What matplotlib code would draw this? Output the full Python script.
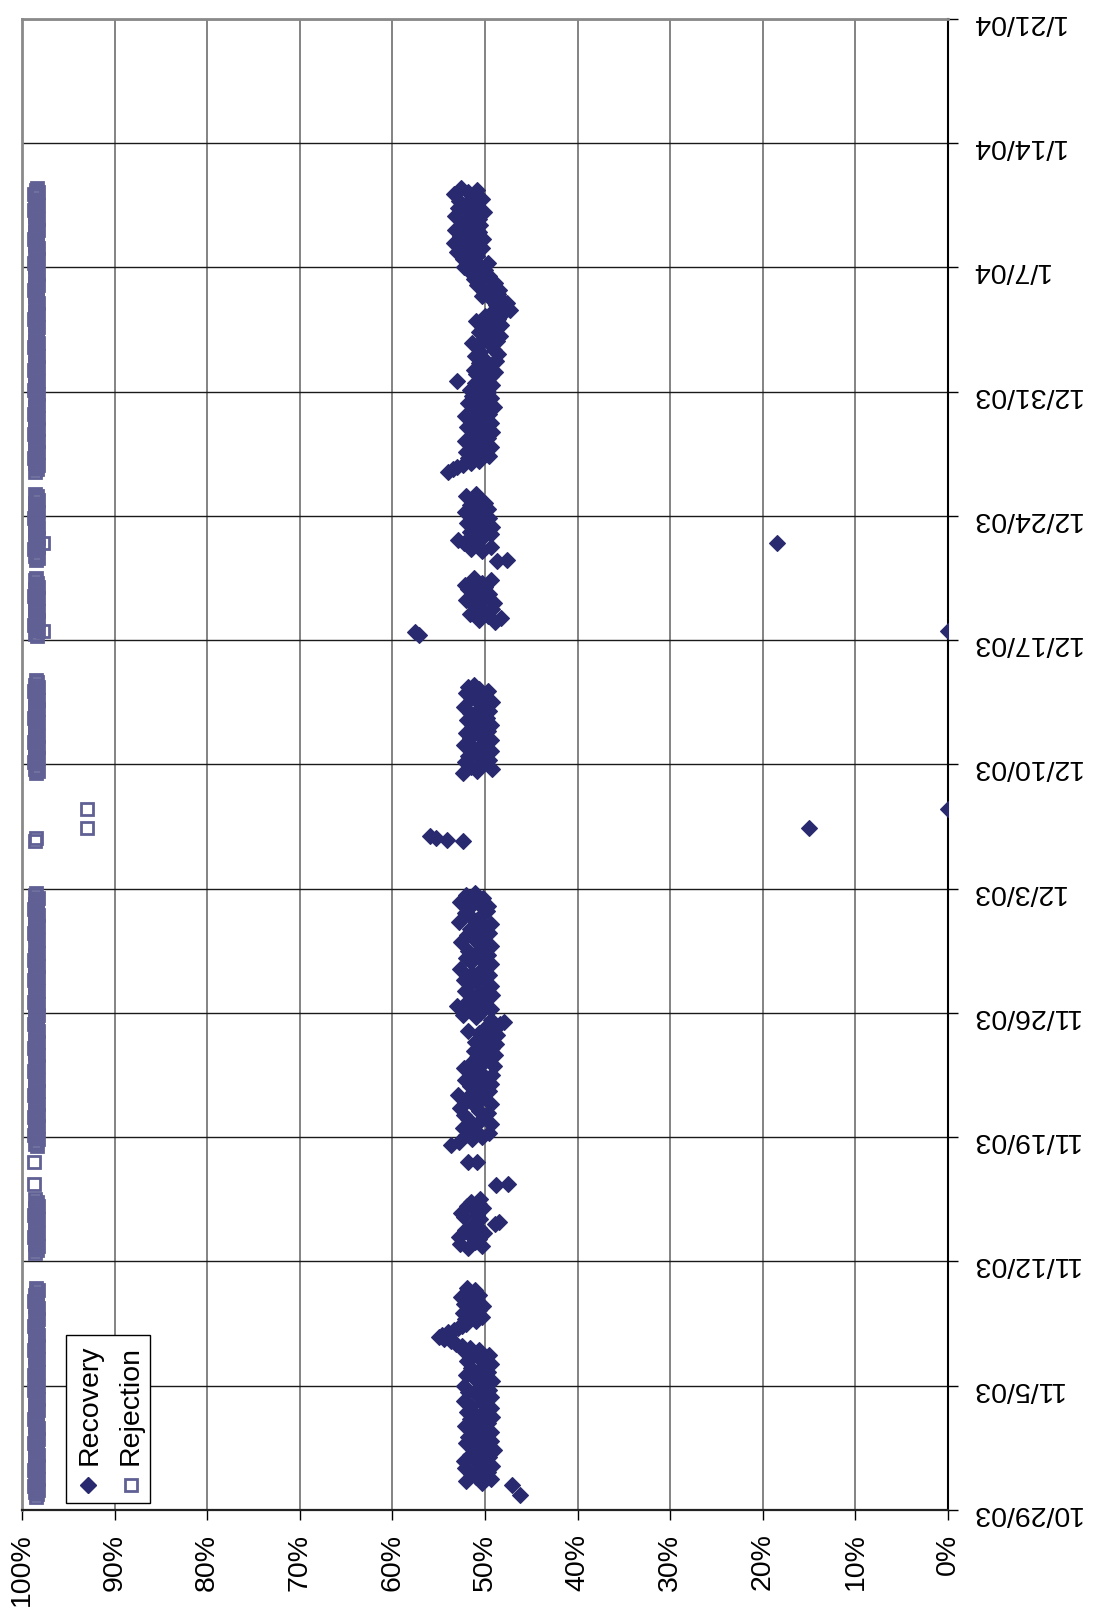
import matplotlib
matplotlib.use("Agg")
import matplotlib.pyplot as plt
import matplotlib.dates as mdates
from matplotlib.patches import Rectangle
import pandas as pd
import numpy as np

plt.rcParams['font.family'] = ['Liberation Sans', 'DejaVu Sans']

# ---------------------------------------------------------------- data
date_tick_values = ["2003-10-29", "2003-11-05", "2003-11-12", "2003-11-19",
                    "2003-11-26", "2003-12-03", "2003-12-10", "2003-12-17",
                    "2003-12-24", "2003-12-31", "2004-01-07", "2004-01-14",
                    "2004-01-21"]
date_tick_labels = ["10/29/03", "11/5/03", "11/12/03", "11/19/03", "11/26/03",
                    "12/3/03", "12/10/03", "12/17/03", "12/24/03", "12/31/03",
                    "1/7/04", "1/14/04", "1/21/04"]
pct_ticks = [100, 90, 80, 70, 60, 50, 40, 30, 20, 10, 0]
pct_labels = ["100%", "90%", "80%", "70%", "60%", "50%", "40%", "30%",
              "20%", "10%", "0%"]

SAMPLE_INTERVAL = "3h"

# Recovery (%), continuous runs logged every 3 hours
rec_a_start = "2003-10-30 12:00"
rec_a = [50.3, 52.0, 49.3, 51.0, 51.5, 49.7, 50.5, 52.2,
         49.2, 50.9, 52.3, 50.1, 49.6, 51.6, 50.6, 49.0,
         51.2, 50.2, 52.0, 49.4, 50.9, 51.8, 49.8, 49.3,
         51.4, 50.5, 52.2, 49.7, 50.7, 51.6, 49.2, 51.0,
         51.9, 50.0, 49.4, 51.5, 50.3, 52.3, 50.1, 49.3,
         50.9, 51.8, 49.6, 50.6, 52.3, 50.2, 49.2, 51.1,
         50.3, 52.0, 49.7, 50.7, 51.5, 50.0, 49.4, 51.9,
         50.5, 51.4, 49.6, 52.2, 50.6, 51.6, 52.5, 53.1,
         53.7, 54.4, 55.0, 54.6, 54.0, 53.4, 52.9, 52.5,
         52.0, 51.0, 52.2, 50.3, 51.5, 52.4, 50.7, 51.8,
         50.2, 52.3, 50.9, 51.6, 52.6, 50.6, 52.0, 51.1,
         51.9]
rec_b_start = "2003-11-12 18:00"
rec_b = [51.8, 50.3, 52.7, 51.1, 50.7, 52.8, 51.6, 50.1,
         52.2, 50.6, 51.4, 48.9, 48.5, 50.5, 52.3, 50.9,
         52.6, 51.1, 50.2, 51.9, 50.7, 51.5, 50.5]
rec_c_start = "2003-11-18 18:00"
rec_c = [52.8, 51.4, 50.3, 52.0, 49.6, 51.0, 52.4, 51.2,
         49.3, 50.7, 51.8, 50.1, 52.3, 49.7, 50.6, 52.7,
         51.1, 49.4, 50.9, 51.9, 50.2, 52.9, 51.4, 49.6,
         50.5, 51.6, 49.3, 51.0, 52.2, 50.0, 49.2, 51.5,
         50.7, 52.3, 49.0, 50.3, 51.4, 49.7, 50.9, 48.9,
         50.1, 51.2, 49.2, 50.6, 48.8, 51.1, 49.6, 50.3,
         48.7, 50.7, 51.8, 49.0, 49.8, 48.4, 47.9, 49.3,
         51.0, 52.4, 50.5, 51.5, 49.4, 53.0, 50.9, 51.9,
         50.1, 51.2, 49.2, 50.6, 52.2, 49.8, 49.3, 51.6,
         50.9, 52.3, 50.2, 49.6, 51.4, 50.5, 52.7, 49.8,
         49.4, 51.5, 50.3, 52.0, 49.7, 51.0, 51.8, 50.1,
         49.3, 50.7, 52.6, 51.1, 50.2, 51.9, 49.6, 50.5,
         51.6, 50.0, 49.4, 52.8, 50.9, 51.4, 50.3, 52.2,
         49.8, 51.8, 49.7, 50.6, 52.7, 51.2, 50.2, 52.0,
         51.1]
rec_d_start = "2003-12-09 12:00"
rec_d = [52.4, 50.9, 49.2, 51.5, 50.3, 52.2, 49.6, 50.6,
         51.8, 50.1, 49.3, 51.2, 50.7, 52.3, 50.0, 49.4,
         51.6, 50.5, 52.0, 49.7, 51.0, 51.4, 49.3, 50.2,
         51.9, 49.8, 50.9, 51.6, 49.6, 50.6, 52.3, 50.1,
         49.2, 51.0, 51.5, 50.3, 52.0, 49.7, 50.7, 51.8,
         51.2]
rec_e1_start = "2003-12-18 00:00"
rec_e1 = [48.9, 50.7, 48.3, 49.7, 51.6, 50.1, 49.2, 51.1,
          50.6, 49.0, 52.0, 50.2, 51.4, 49.6, 51.0, 51.8,
          50.0, 52.2, 50.3, 49.4, 51.2]
rec_e2_start = "2003-12-22 00:00"
rec_e2 = [50.3, 51.5, 49.3, 50.9, 52.3, 52.9, 51.2, 50.1,
          49.4, 51.6, 50.6, 49.2, 51.0, 51.9, 50.2, 49.6,
          51.4, 50.5, 52.2, 49.7, 50.7, 51.6, 50.0, 51.1,
          50.6, 52.0, 51.0]
rec_e3_start = "2003-12-26 12:00"
rec_e3 = [54.0, 53.5, 53.0, 52.4, 51.5, 50.6, 51.8, 49.6,
          51.0, 52.0, 50.1, 49.3, 51.4, 50.5, 52.2, 49.7,
          50.3, 51.2, 49.2, 50.9, 51.9, 49.8, 49.4, 51.5,
          50.6, 52.2, 49.6, 50.2, 51.1, 49.0, 50.7, 51.8,
          50.0, 49.3, 51.4, 50.5, 49.7, 51.6, 50.1, 49.2,
          51.1, 53.0, 50.3, 49.4, 51.0, 48.9, 51.2, 49.8,
          49.3, 50.7, 48.8, 50.2, 51.1, 48.6, 50.5, 49.0,
          50.9, 49.4, 51.4, 48.7, 50.1, 48.4, 49.7, 50.6,
          48.9, 50.3, 48.3, 49.6, 51.0, 48.6, 50.0, 48.2,
          49.2, 47.3, 48.0, 48.8, 47.6, 48.1, 49.4, 50.3,
          48.6, 50.1, 48.5, 49.3, 50.9, 48.9, 50.5, 51.2,
          49.6, 50.7, 51.6, 50.0, 52.3, 50.6, 49.7, 51.5,
          52.4, 50.9, 51.9, 53.0, 51.4, 50.3, 52.2, 53.3,
          51.1, 50.2, 52.7, 51.8, 50.7, 53.2, 51.5, 50.5,
          52.4, 51.6, 50.6, 53.2, 51.2, 50.1, 52.0, 52.9,
          51.0, 51.9, 52.8, 50.3, 51.4, 53.3, 51.8, 50.9,
          52.6]
# Recovery, isolated readings
rec_extra_times = ["2003-10-29 20:00", "2003-10-30 10:00",
                   "2003-11-16 08:00", "2003-11-16 09:00",
                   "2003-11-17 14:00", "2003-11-17 15:00", "2003-11-18 14:00",
                   "2003-12-05 17:00", "2003-12-05 18:00", "2003-12-05 20:00",
                   "2003-12-05 23:00", "2003-12-06 09:30", "2003-12-07 12:00",
                   "2003-12-17 07:00", "2003-12-17 11:30", "2003-12-17 12:00",
                   "2003-12-21 11:00", "2003-12-21 12:00", "2003-12-22 11:00"]
rec_extra_vals = [46.2, 47.1,
                  48.8, 47.5,
                  51.8, 50.9, 53.7,
                  52.4, 54.1, 55.3,
                  55.9, 15.0, 0.0,
                  57.1, 57.6, 0.0,
                  48.7, 47.6, 18.5]

# Rejection (%), continuous runs logged every 3 hours
rej_a_start = "2003-10-29 18:00"
rej_a = [98.5, 98.4, 98.6, 98.3, 98.5, 98.7, 98.4, 98.5, 98.3, 98.6,
         98.4, 98.5, 98.7, 98.5, 98.3, 98.6, 98.4, 98.5, 98.6, 98.3,
         98.5, 98.4, 98.6, 98.5, 98.7, 98.4, 98.3, 98.5, 98.6, 98.4,
         98.5, 98.3, 98.6, 98.5, 98.4, 98.7, 98.5, 98.4, 98.6, 98.3,
         98.5, 98.6, 98.4, 98.5, 98.3, 98.6, 98.5, 98.4, 98.7, 98.5,
         98.3, 98.5, 98.6, 98.4, 98.5, 98.7, 98.3, 98.5, 98.4, 98.6,
         98.4, 98.5, 98.3, 98.6, 98.5, 98.4, 98.7, 98.5, 98.3, 98.6,
         98.5, 98.4, 98.6, 98.3, 98.5, 98.4, 98.6, 98.7, 98.4, 98.5,
         98.3, 98.6, 98.5, 98.4, 98.5, 98.3, 98.6, 98.4, 98.7, 98.5,
         98.4, 98.6, 98.5, 98.3, 98.5]
rej_b_start = "2003-11-12 12:00"
rej_b = [98.6, 98.4, 98.5, 98.3, 98.6, 98.5, 98.4, 98.7, 98.5, 98.3,
         98.6, 98.4, 98.5, 98.4, 98.6, 98.3, 98.5, 98.7, 98.4, 98.5,
         98.6, 98.3, 98.5, 98.4, 98.6]
rej_c_start = "2003-11-18 12:00"
rej_c = [98.4, 98.6, 98.5, 98.3, 98.5, 98.7, 98.4, 98.6, 98.5, 98.3,
         98.6, 98.4, 98.5, 98.7, 98.3, 98.5, 98.6, 98.4, 98.5, 98.3,
         98.6, 98.5, 98.4, 98.7, 98.5, 98.3, 98.6, 98.4, 98.5, 98.6,
         98.3, 98.5, 98.4, 98.6, 98.7, 98.5, 98.3, 98.4, 98.6, 98.5,
         98.4, 98.3, 98.6, 98.5, 98.7, 98.4, 98.5, 98.3, 98.6, 98.4,
         98.5, 98.6, 98.3, 98.5, 98.4, 98.7, 98.5, 98.4, 98.6, 98.3,
         98.5, 98.4, 98.6, 98.5, 98.3, 98.7, 98.4, 98.5, 98.6, 98.4,
         98.3, 98.5, 98.6, 98.4, 98.5, 98.7, 98.3, 98.6, 98.5, 98.4,
         98.6, 98.3, 98.5, 98.4, 98.7, 98.5, 98.6, 98.3, 98.4, 98.5,
         98.5, 98.6, 98.4, 98.3, 98.5, 98.6, 98.7, 98.4, 98.5, 98.3,
         98.6, 98.5, 98.4, 98.6, 98.3, 98.5, 98.4, 98.7, 98.5, 98.6,
         98.4, 98.5, 98.3, 98.6, 98.5]
rej_d_start = "2003-12-09 12:00"
rej_d = [98.5, 98.3, 98.6, 98.4, 98.5, 98.7, 98.4, 98.3, 98.6, 98.5,
         98.4, 98.6, 98.3, 98.5, 98.7, 98.4, 98.5, 98.3, 98.6, 98.4,
         98.5, 98.6, 98.4, 98.3, 98.5, 98.7, 98.4, 98.6, 98.5, 98.3,
         98.6, 98.4, 98.5, 98.3, 98.6, 98.5, 98.4, 98.7, 98.5, 98.3,
         98.6, 98.4, 98.5]
rej_e1_start = "2003-12-17 06:00"
rej_e1 = [98.4, 98.6, 98.3, 98.5, 98.4, 98.7, 98.5, 98.3, 98.6, 98.4,
          98.5, 98.3, 98.6, 98.5, 98.4, 98.6, 98.5, 98.3, 98.7, 98.4,
          98.5, 98.6, 98.3, 98.5, 98.4, 98.6, 98.5]
rej_e2_start = "2003-12-21 12:00"
rej_e2 = [98.5, 98.3, 98.6, 98.4, 98.5, 98.7, 98.3, 98.5, 98.4, 98.6,
          98.3, 98.5, 98.4, 98.6, 98.5, 98.3, 98.6, 98.4, 98.5, 98.7,
          98.4, 98.5, 98.3, 98.6, 98.5, 98.4, 98.6, 98.3, 98.5, 98.4,
          98.6]
rej_e3_start = "2003-12-26 12:00"
rej_e3 = [98.6, 98.4, 98.5, 98.3, 98.6, 98.5, 98.7, 98.4, 98.5, 98.3,
          98.6, 98.4, 98.5, 98.6, 98.3, 98.5, 98.4, 98.7, 98.5, 98.3,
          98.6, 98.5, 98.4, 98.6, 98.3, 98.5, 98.7, 98.4, 98.5, 98.6,
          98.3, 98.4, 98.5, 98.6, 98.4, 98.3, 98.5, 98.7, 98.4, 98.6,
          98.5, 98.3, 98.4, 98.6, 98.5, 98.4, 98.7, 98.3, 98.5, 98.6,
          98.4, 98.5, 98.3, 98.6, 98.5, 98.4, 98.7, 98.5, 98.3, 98.6,
          98.4, 98.5, 98.6, 98.4, 98.5, 98.3, 98.6, 98.5, 98.4, 98.7,
          98.5, 98.3, 98.6, 98.4, 98.5, 98.6, 98.3, 98.5, 98.4, 98.6,
          98.5, 98.4, 98.7, 98.5, 98.3, 98.6, 98.4, 98.5, 98.6, 98.3,
          98.5, 98.4, 98.6, 98.5, 98.7, 98.4, 98.3, 98.5, 98.6, 98.4,
          98.5, 98.3, 98.6, 98.5, 98.4, 98.7, 98.5, 98.4, 98.6, 98.3,
          98.5, 98.6, 98.4, 98.5, 98.3, 98.6, 98.5, 98.4, 98.7, 98.5,
          98.3, 98.5, 98.6, 98.4, 98.5, 98.7, 98.3, 98.5, 98.4]
# Rejection, isolated readings
rej_extra_times = ["2003-11-16 09:00", "2003-11-17 14:00",
                   "2003-12-05 17:00", "2003-12-05 20:00",
                   "2003-12-06 09:30", "2003-12-07 12:00",
                   "2003-12-17 12:00", "2003-12-22 11:00"]
rej_extra_vals = [98.7, 98.7,
                  98.6, 98.5,
                  93.0, 93.0,
                  97.7, 97.7]


def assemble(runs, extra_times, extra_vals):
    times, vals = [], []
    for start, values in runs:
        times.extend(pd.date_range(start, periods=len(values),
                                   freq=SAMPLE_INTERVAL))
        vals.extend(values)
    times.extend(pd.to_datetime(extra_times))
    vals.extend(extra_vals)
    return (mdates.date2num(pd.DatetimeIndex(times).to_pydatetime()),
            np.array(vals))


rec_t, rec_v = assemble([(rec_a_start, rec_a), (rec_b_start, rec_b),
                         (rec_c_start, rec_c), (rec_d_start, rec_d),
                         (rec_e1_start, rec_e1), (rec_e2_start, rec_e2),
                         (rec_e3_start, rec_e3)],
                        rec_extra_times, rec_extra_vals)
rej_t, rej_v = assemble([(rej_a_start, rej_a), (rej_b_start, rej_b),
                         (rej_c_start, rej_c), (rej_d_start, rej_d),
                         (rej_e1_start, rej_e1), (rej_e2_start, rej_e2),
                         (rej_e3_start, rej_e3)],
                        rej_extra_times, rej_extra_vals)

# ---------------------------------------------------------------- figure
REC_COLOR = "#29296f"
REJ_COLOR = "#606095"
FS = 20.5
DIAMOND_SIZE = 8.0
SQUARE_SIZE = 8.3

fig = plt.figure(figsize=(10.94, 16.12), dpi=100)
ax = fig.add_axes([22 / 1094, 1 - 1510 / 1612, 926 / 1094, 1491 / 1612])

# percent along x (100% on the left), dates along y (earliest at the bottom)
ax.plot(rec_v, rec_t, linestyle="none", marker="D", markersize=DIAMOND_SIZE,
        markerfacecolor=REC_COLOR, markeredgecolor=REC_COLOR,
        markeredgewidth=0.8, zorder=3)
ax.plot(rej_v, rej_t, linestyle="none", marker="s", markersize=SQUARE_SIZE,
        markerfacecolor="none", markeredgecolor=REJ_COLOR,
        markeredgewidth=2.0, zorder=3)

tick_nums = mdates.date2num(pd.to_datetime(date_tick_values).to_pydatetime())
ax.set_xlim(100, 0)
ax.set_ylim(tick_nums[0], tick_nums[-1])

ax.set_xticks(pct_ticks)
ax.set_xticklabels(pct_labels, rotation=90, fontsize=FS)
ax.yaxis.tick_right()
ax.set_yticks(tick_nums)
ax.set_yticklabels(date_tick_labels, rotation=180, fontsize=FS)

ax.tick_params(axis="x", direction="out", length=7, width=1.0, pad=10,
               colors="black", top=False)
ax.tick_params(axis="y", direction="out", length=7, width=1.0, pad=9,
               colors="black", left=False)

for t in ax.get_xticks():
    ax.axvline(t, color="#7a7a7a", lw=1.3, zorder=1)
for t in tick_nums:
    ax.axhline(t, color="#1a1a1a", lw=1.0, zorder=1)

ax.spines["right"].set_color("black")
ax.spines["right"].set_linewidth(1.5)
ax.spines["bottom"].set_color("#222222")
ax.spines["bottom"].set_linewidth(1.6)
ax.spines["left"].set_color("#8a8a8a")
ax.spines["left"].set_linewidth(2.0)
ax.spines["top"].set_color("#8a8a8a")
ax.spines["top"].set_linewidth(2.0)

# legend box, laid out along the rotated reading direction
ax.add_patch(Rectangle((0.0475, 0.0047), 0.0907, 0.1127,
                       transform=ax.transAxes, facecolor="white",
                       edgecolor="black", lw=1.0, zorder=5))
ax.plot([0.0713], [0.0168], transform=ax.transAxes, linestyle="none",
        marker="D", markersize=DIAMOND_SIZE, markerfacecolor=REC_COLOR,
        markeredgecolor=REC_COLOR, zorder=6, clip_on=False)
ax.plot([0.1177], [0.0168], transform=ax.transAxes, linestyle="none",
        marker="s", markersize=SQUARE_SIZE, markerfacecolor="none",
        markeredgecolor=REJ_COLOR, markeredgewidth=2.0, zorder=6,
        clip_on=False)
ax.text(0.0734, 0.0302, "Recovery", rotation=90, ha="center", va="bottom",
        transform=ax.transAxes, fontsize=FS, zorder=6)
ax.text(0.1177, 0.0302, "Rejection", rotation=90, ha="center", va="bottom",
        transform=ax.transAxes, fontsize=FS, zorder=6)

fig.savefig("out.png", dpi=100, facecolor="white")
